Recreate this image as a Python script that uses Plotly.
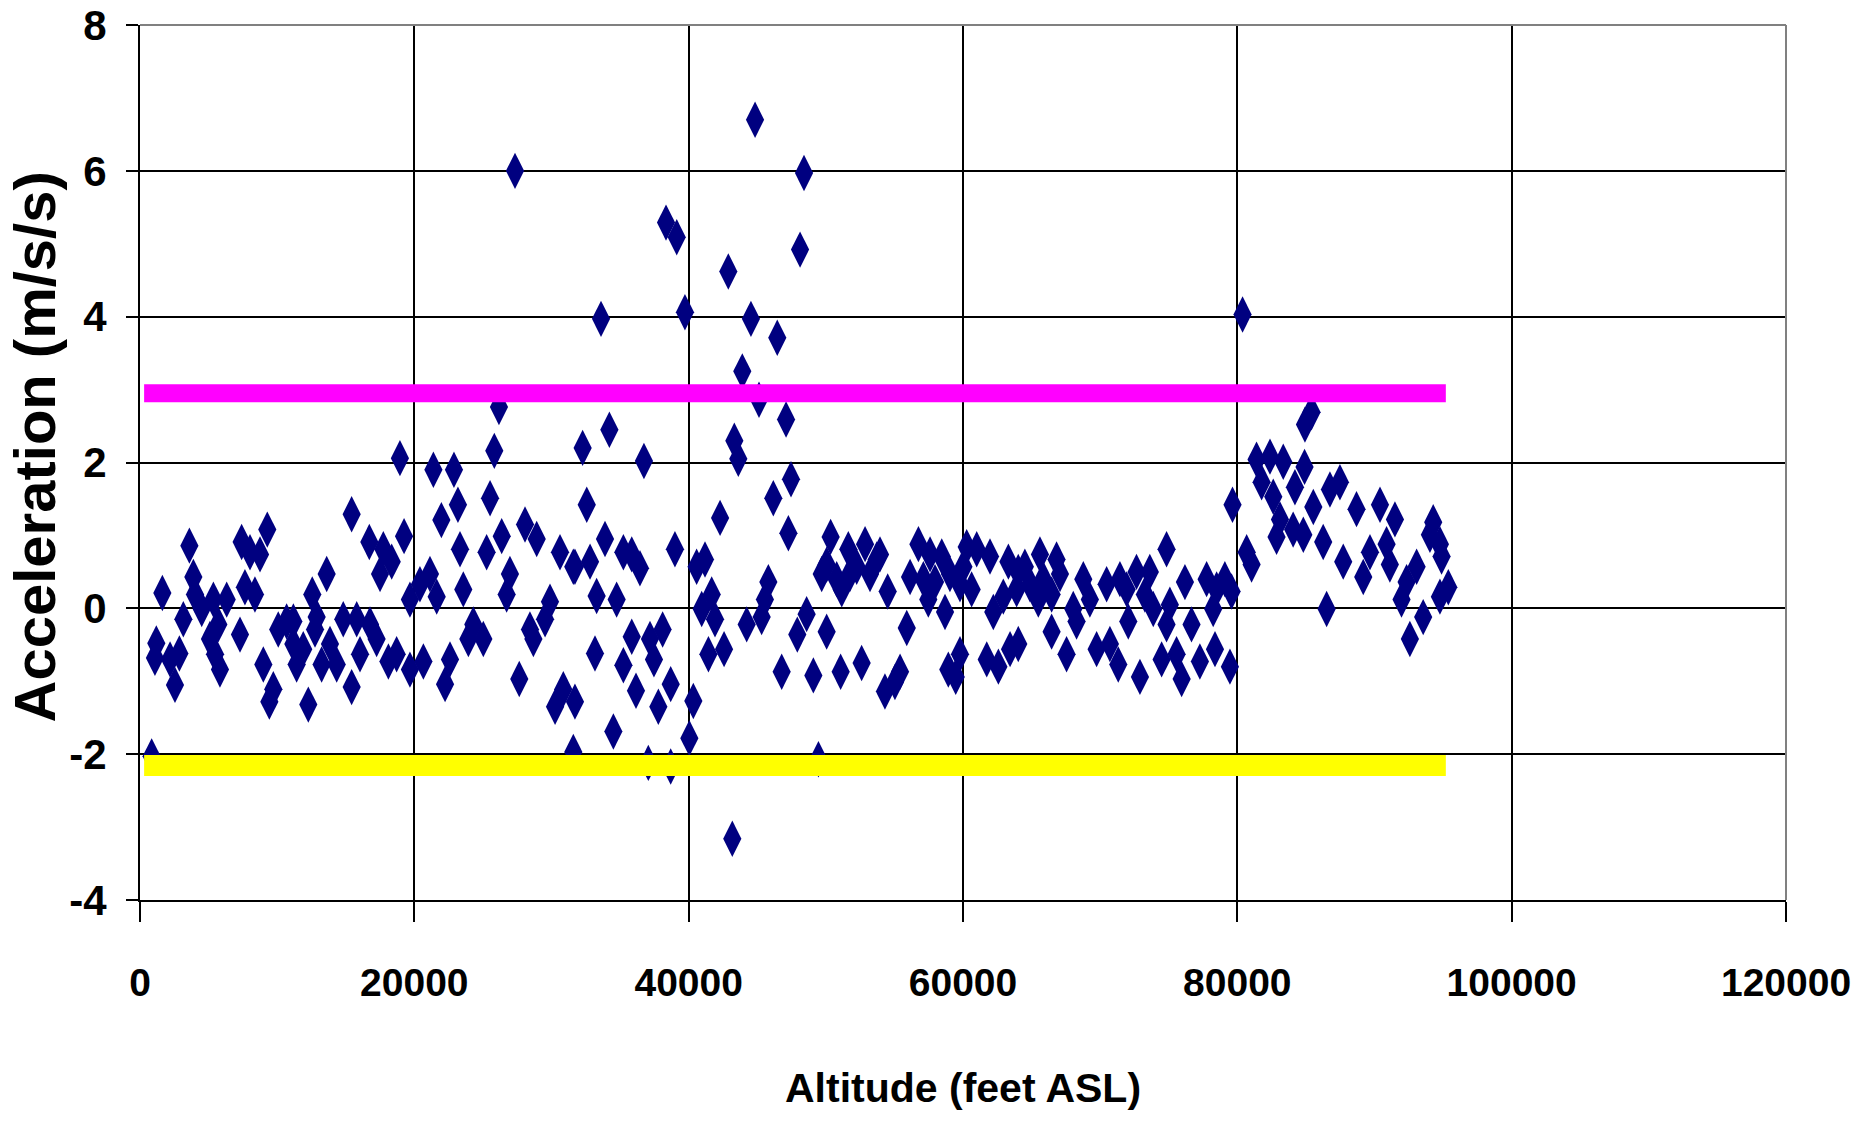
import plotly.graph_objects as go

# Altitude (feet ASL) and acceleration (m/s/s)
altitude = [
    850, 1630, 1190, 1090, 2190, 2870, 2550, 3600, 3890, 3160, 4010, 4500, 5350, 6320, 5710,
    5100, 5470, 5830, 7290, 7410, 8020, 8750, 9280, 7650, 8380, 8990, 9720, 9430, 10080, 10690,
    11180, 11180, 11420, 11900, 12270, 12560, 13610, 12880, 12760, 13240, 13850, 14340, 14820,
    27340, 26170, 25830, 18950, 21390, 22890, 23180, 21970, 25520, 26370, 25270, 23330, 19250,
    15430, 16720, 17740, 18350, 17500, 21140, 20410, 19680, 21630, 23570, 26970, 26730, 28070,
    28920, 30620, 31590, 29890, 29530, 28680, 28430, 24300, 23940, 25030, 15800, 16770, 17250,
    16040, 15430, 18110, 18710, 19680, 20660, 22600, 22240, 27650, 30260, 30860,
    44840, 38350, 39130, 42890, 33610, 39730, 44540, 46460, 43910, 45130, 47100, 34220, 32270,
    36740, 43330, 43620, 47460, 46170, 32570, 42290, 47270, 33900, 35240, 35850, 36450, 39000,
    31710, 32810, 40580, 41190, 45810, 45560, 33290, 34750, 40950, 41680, 41920, 44230, 45320,
    47920, 35850, 37180, 38100, 37470, 33170, 35240, 41440, 42580, 46780, 36160, 37790, 38690,
    40340, 31710, 34510, 40050, 37060, 38690, 31590, 43180,
    48410, 48120, 50350, 51640, 52860, 53950, 49700, 50790, 51760, 53220, 50060, 52250, 53710,
    51160, 54510, 56750, 57600, 58450, 56140, 57110, 57960, 57470, 58690, 59050, 60270, 61000,
    61970, 63310, 60030, 60630, 59780, 62210, 62940, 63910, 64030, 48600, 50060, 55900, 49090,
    51080, 52610, 54310, 55410, 55040, 58930, 59780, 59470, 61730, 62580, 63430, 64030, 49460,
    64510, 65610, 66820, 67070, 64880, 65850, 65490, 66460, 66460, 67550, 68040, 68770, 69250,
    68280, 69740, 70710, 71320, 70470, 71440, 71930, 72650, 73620, 73260, 74840, 72050, 73870,
    74840, 72900, 74480, 75570, 75940, 76180, 75080, 76660, 77270, 77760, 78490, 78240, 78370,
    79090,
    80380, 79650, 80680, 81040, 79580, 84930, 85410, 81400, 82380, 83350, 84900, 81770, 84200,
    87480, 86750, 82620, 85540, 83110, 88690, 90400, 91490, 94280, 94770, 94040, 84070, 84810,
    82860, 86260, 87720, 89180, 89670, 90880, 91120, 93070, 92340, 94890, 95380, 94770, 91970,
    93550, 92580, 86510, 79460,
]
acceleration = [
    -2.03, 0.21, -0.48, -0.68, -0.70, -0.62, -1.05, 0.86, 0.43, -0.15, 0.19, -0.01, 0.12, 0.12, -0.22,
    -0.42, -0.63, -0.84, -0.36, 0.91, 0.77, 0.74, 1.08, 0.29, 0.19, -0.77, -1.11, -1.28, -0.29, -0.18,
    -0.18, -0.49, -0.77, -0.56, -1.32, 0.19, 0.47, -0.12, -0.29, -0.77, -0.49, -0.77, -0.15,
    6.00, 2.76, 2.16, 2.06, 1.90, 1.90, 1.42, 1.21, 1.51, 0.99, 0.77, 0.81, 0.99,
    1.29, 0.91, 0.81, 0.64, 0.47, 0.47, 0.33, 0.12, 0.16, 0.26, 0.47, 0.19, 1.15,
    0.95, 0.77, 0.57, 0.09, -0.15, -0.42, -0.29, -0.22, -0.42, -0.42, -0.15, -0.22, -0.42,
    -0.63, -1.08, -0.73, -0.63, -0.84, -0.73, -0.70, -1.04, -0.97, -1.35, -1.11,
    6.70, 5.29, 5.09, 4.62, 3.97, 4.06, 3.97, 3.71, 3.25, 2.86, 2.59, 2.45, 2.20,
    2.02, 2.30, 2.05, 1.77, 1.51, 1.42, 1.24, 1.03, 0.95, 0.77, 0.74, 0.55, 0.81,
    0.57, 0.64, 0.57, 0.67, 0.36, 0.12, 0.17, 0.12, -0.01, 0.19, -0.15, -0.22, -0.12,
    -0.36, -0.39, -0.42, -0.29, -0.70, -0.62, -0.78, -0.63, -0.56, -0.87, -1.13, -1.35, -1.04,
    -1.27, -1.28, -1.69, -1.78, -2.12, -2.17, -1.97, -3.16,
    5.97, 4.92, 0.98, 0.81, 0.88, 0.74, 0.47, 0.40, 0.47, 0.47, 0.60, 0.57, 0.67,
    0.26, 0.23, 0.88, 0.74, 0.71, 0.43, 0.40, 0.36, 0.12, -0.05, 0.47, 0.84, 0.81,
    0.71, 0.64, 0.57, 0.26, 0.33, -0.05, 0.16, 0.26, 0.50, -0.08, -0.32, -0.27, -0.92,
    -0.87, -0.75, -1.14, -0.87, -1.01, -0.84, -0.63, -0.94, -0.70, -0.80, -0.56, -0.49, -2.07,
    0.57, 0.74, 0.67, 0.47, 0.33, 0.40, 0.12, 0.19, -0.32, -0.63, -0.01, 0.40, 0.12,
    -0.18, -0.56, -0.49, -0.77, 0.33, 0.40, 0.26, 0.50, 0.50, 0.19, 0.81, -0.18, -0.01,
    -0.22, -0.94, -0.70, -0.63, -0.97, 0.36, 0.05, -0.22, -0.73, 0.40, 0.26, -0.01, -0.56,
    0.40,
    4.03, 1.42, 0.77, 0.60, 0.23, 2.52, 2.69, 2.04, 2.08, 2.01, 1.94, 1.73, 1.66,
    1.73, 1.63, 1.53, 1.39, 1.22, 1.36, 1.42, 1.22, 1.18, 0.88, 1.01, 1.08, 1.01,
    0.98, 0.91, 0.64, 0.43, 0.77, 0.88, 0.60, 0.57, 0.36, 0.71, 0.29, 0.16, 0.12,
    -0.12, -0.42, -0.01, -0.80,
]

# Limit lines
limit_alt = [300, 95200]
upper_limit = [2.95, 2.95]
lower_limit = [-2.155, -2.155]

x_ticks = [0, 20000, 40000, 60000, 80000, 100000, 120000]
y_ticks = [-4, -2, 0, 2, 4, 6, 8]

FONT = "Liberation Sans, Arial, sans-serif"

fig = go.Figure()
fig.add_trace(go.Scatter(
    x=altitude, y=acceleration, mode="markers",
    marker=dict(symbol="diamond-tall", size=26, color="#000080", line=dict(width=0)),
    showlegend=False, hoverinfo="x+y",
))
fig.add_trace(go.Scatter(
    x=limit_alt, y=upper_limit, mode="lines",
    line=dict(color="#FF00FF", width=18), showlegend=False,
))
fig.add_trace(go.Scatter(
    x=limit_alt, y=lower_limit, mode="lines",
    line=dict(color="#FFFF00", width=21), showlegend=False,
))

fig.update_layout(
    width=1852, height=1117,
    margin=dict(l=132, r=74, t=17, b=225, autoexpand=False),
    paper_bgcolor="white", plot_bgcolor="white",
    showlegend=False,
    xaxis=dict(
        range=[0, 120000], tickvals=x_ticks, ticktext=[str(v) for v in x_ticks],
        showgrid=True, gridcolor="black", gridwidth=2,
        showline=True, linecolor="black", linewidth=2,
        ticks="outside", ticklen=20, tickwidth=2, tickcolor="black",
        zeroline=False, ticklabelstandoff=27, ticklabeloverflow="allow",
        automargin=False,
        tickfont=dict(family=FONT, size=39, color="black", weight="bold"),
    ),
    yaxis=dict(
        range=[-4, 8], tickvals=y_ticks, ticktext=[str(v) for v in y_ticks],
        showgrid=True, gridcolor="black", gridwidth=2,
        showline=True, linecolor="black", linewidth=2,
        ticks="outside", ticklen=12, tickwidth=2, tickcolor="black",
        zeroline=False, ticklabelstandoff=11, ticklabeloverflow="allow",
        automargin=False,
        tickfont=dict(family=FONT, size=42, color="black", weight="bold"),
    ),
    shapes=[
        dict(type="line", xref="paper", yref="paper", x0=0, x1=1, y0=1, y1=1,
             line=dict(color="#808080", width=2)),
        dict(type="line", xref="paper", yref="paper", x0=1, x1=1, y0=0, y1=1,
             line=dict(color="#808080", width=2)),
    ],
    annotations=[
        dict(text="Altitude (feet ASL)", xref="paper", yref="paper", x=0.5, y=-0.215,
             xanchor="center", yanchor="middle", showarrow=False,
             font=dict(family=FONT, size=41, color="black", weight="bold")),
        dict(text="Acceleration (m/s/s)", xref="paper", yref="paper", x=-0.064, y=0.518,
             xanchor="center", yanchor="middle", showarrow=False, textangle=-90,
             font=dict(family=FONT, size=58, color="black", weight="bold")),
    ],
)

fig.write_html("out.html")
